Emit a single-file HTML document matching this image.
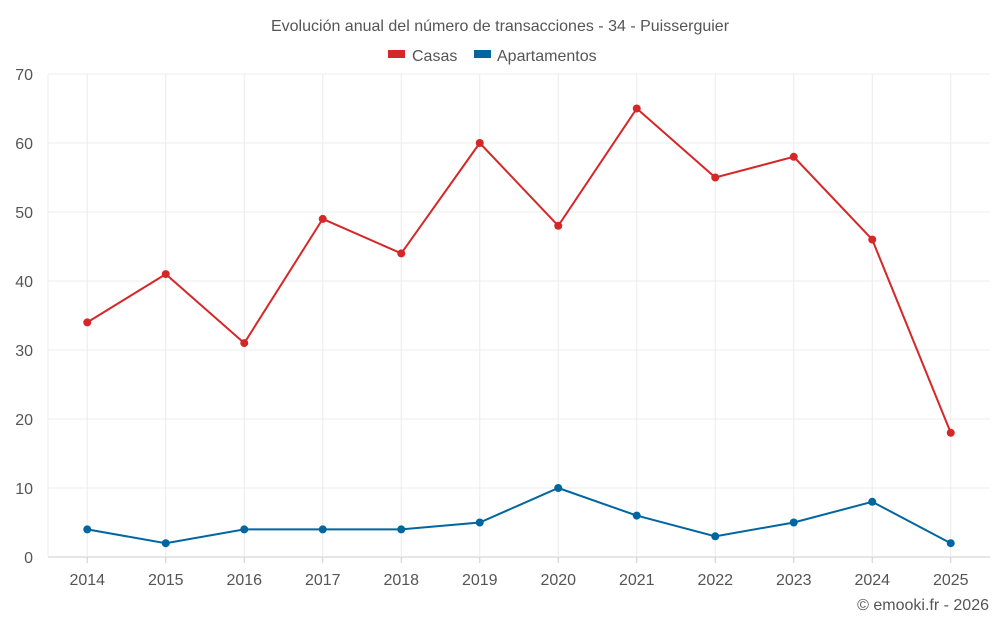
<!DOCTYPE html>
<html><head><meta charset="utf-8"><style>
body{margin:0;background:#fff;font-family:"Liberation Sans",sans-serif}
svg text{font-family:"Liberation Sans",sans-serif;fill:#555}
</style></head><body>
<svg id="c" width="1000" height="625">
<text x="500" y="31" text-anchor="middle" font-size="16">Evolución anual del número de transacciones - 34 - Puisserguier</text>
<g>
<rect x="388" y="50" width="17" height="8" fill="#d62728"/>
<text x="412" y="61" font-size="16">Casas</text>
<rect x="474" y="50" width="17" height="8" fill="#0066a0"/>
<text x="497" y="61" font-size="16">Apartamentos</text>
</g>
<g id="grid"></g><g id="axes"></g><g id="series"></g>
<text x="989" y="610" text-anchor="end" font-size="16">© emooki.fr - 2026</text>
</svg>
<script>
const categories=["2014","2015","2016","2017","2018","2019","2020","2021","2022","2023","2024","2025"];
const casas=[34,41,31,49,44,60,48,65,55,58,46,18];
const apartamentos=[4,2,4,4,4,5,10,6,3,5,8,2];
const yTicks=[0,10,20,30,40,50,60,70];
const L=48,R=990,T=74,B=557,yMax=70;
const step=(R-L)/categories.length;
const x=i=>L+step*(i+0.5);
const y=v=>B-(v/yMax)*(B-T);
const NS="http://www.w3.org/2000/svg";
function mk(tag,attrs,parent){const e=document.createElementNS(NS,tag);for(const k in attrs)e.setAttribute(k,attrs[k]);parent.appendChild(e);return e;}
const grid=document.getElementById('grid'),axes=document.getElementById('axes'),ser=document.getElementById('series');
yTicks.forEach(t=>{
 const l=mk('line',{x1:L,x2:R,y1:y(t),y2:y(t),stroke:t===0?'#ccc':'#ececec'},grid);
 
 
 const tx=mk('text',{x:33,y:y(t)+6,'text-anchor':'end','font-size':16},axes);
 tx.textContent=t;
 
 
});
const l0=mk('line',{x1:L,x2:L,y1:T,y2:B,stroke:'#ececec'},grid);


categories.forEach((c,i)=>{
 const l=mk('line',{x1:x(i),x2:x(i),y1:T,y2:B,stroke:'#ececec'},grid);
 
 
 const tk=mk('line',{x1:x(i),x2:x(i),y1:B,y2:B+6,stroke:'#ccc'},axes);
 
 
 const tx=mk('text',{x:x(i),y:585,'text-anchor':'middle','font-size':16},axes);
 tx.textContent=c;
 
 
});
function draw(data,color,name){
 const p=mk('polyline',{points:data.map((v,i)=>x(i)+','+y(v)).join(' '),fill:'none',stroke:color,'stroke-width':2},ser);
 
 
 data.forEach((v,i)=>{
  const d=mk('circle',{cx:x(i),cy:y(v),r:4,fill:color},ser);
  
  
 });
}
draw(casas,'#d62728','casas');
draw(apartamentos,'#0066a0','apartamentos');
</script>
</body></html>
